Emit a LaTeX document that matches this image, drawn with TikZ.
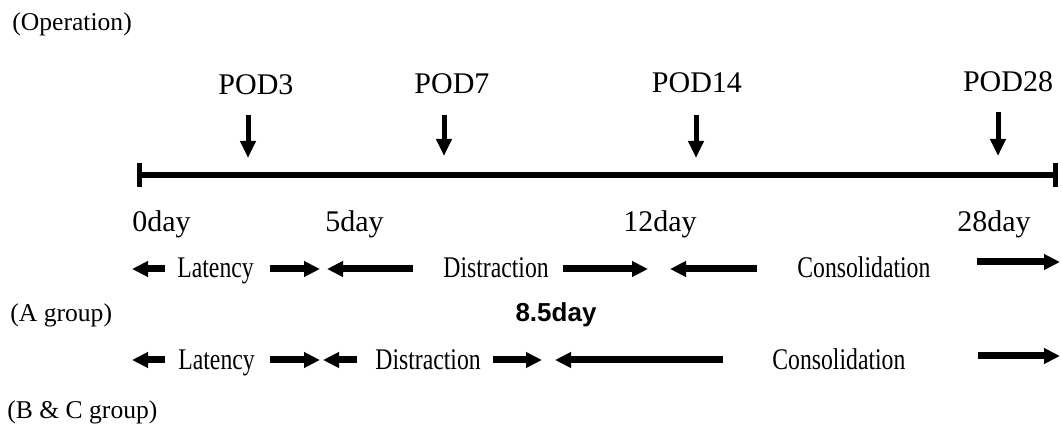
\documentclass[tikz,border=0pt]{standalone}
\usepackage{fontspec}
\setmainfont{Liberation Serif}
\newfontfamily\narrowserif[FakeStretch=0.79]{Liberation Serif}
\newfontfamily\boldsans{Liberation Sans}
\usetikzlibrary{arrows.meta}

\tikzset{
  podlabel/.style={font=\fontsize{15}{18}\selectfont, inner sep=0pt},
  daylabel/.style={font=\fontsize{15}{18}\selectfont, inner sep=0pt, anchor=base west},
  phaselabel/.style={font=\narrowserif\fontsize{15}{18}\selectfont, inner sep=0pt, anchor=base west},
  grouplabel/.style={font=\fontsize{12.8}{15}\selectfont, inner sep=0pt, anchor=west},
  podarrow/.style={line width=2.5pt, -{Triangle[length=8.5pt,width=7.5pt]}},
  phase/.style={line width=3.5pt, -{Triangle[length=8pt,width=7.5pt]}},
}

\begin{document}
\begin{tikzpicture}[x=0.5pt,y=-0.5pt]
\useasboundingbox (0,0) rectangle (1061,427);
\node[grouplabel] (op) at (12,24) {(Operation)};
% time axis
\draw[line width=3pt] (139,175) -- (1055,175);
\draw[line width=2.5pt] (139,163) -- (139,187);
\draw[line width=2.5pt] (1055,163) -- (1055,187);
% post-op days
\node[podlabel] (pod3) at (256,85) {POD3};
\node[podlabel] (pod7) at (452,84) {POD7};
\node[podlabel] (pod14) at (697,83) {POD14};
\node[podlabel] (pod28) at (1008,82) {POD28};
\draw[podarrow] (248,115) -- (248,158);
\draw[podarrow] (444,115) -- (444,156);
\draw[podarrow] (696,115) -- (696,158);
\draw[podarrow] (998,112) -- (998,156);
% days below the axis
\node[daylabel] (d0) at (132,232) {0day};
\node[daylabel] (d5) at (325,232) {5day};
\node[daylabel] (d12) at (623,232) {12day};
\node[daylabel] (d28) at (957,232) {28day};
% A group
\draw[phase] (165,269) -- (132,269);
\node[phaselabel] (latA) at (177,278) {Latency};
\draw[phase] (270,269) -- (320,269);
\draw[phase] (413,269) -- (327,269);
\node[phaselabel] (disA) at (443,278) {Distraction};
\draw[phase] (563,269) -- (648,269);
\draw[phase] (757,269) -- (670,269);
\node[phaselabel] (conA) at (797,278) {Consolidation};
\draw[phase] (977,262) -- (1060,262);
\node[grouplabel] (grpA) at (10,315) {(A group)};
\node[font=\boldsans\bfseries\fontsize{13}{15}\selectfont, inner sep=0pt] (half) at (556,315) {8.5day};
% B & C group
\draw[phase] (165,360) -- (132,360);
\node[phaselabel] (latB) at (178,370) {Latency};
\draw[phase] (270,360) -- (320,360);
\draw[phase] (357,360) -- (323,360);
\node[phaselabel] (disB) at (375,370) {Distraction};
\draw[phase] (493,360) -- (542,360);
\draw[phase] (723,360) -- (555,360);
\node[phaselabel] (conB) at (772,370) {Consolidation};
\draw[phase] (978,356) -- (1060,356);
\node[grouplabel] (grpB) at (7,412) {(B \& C group)};
\end{tikzpicture}
\end{document}
